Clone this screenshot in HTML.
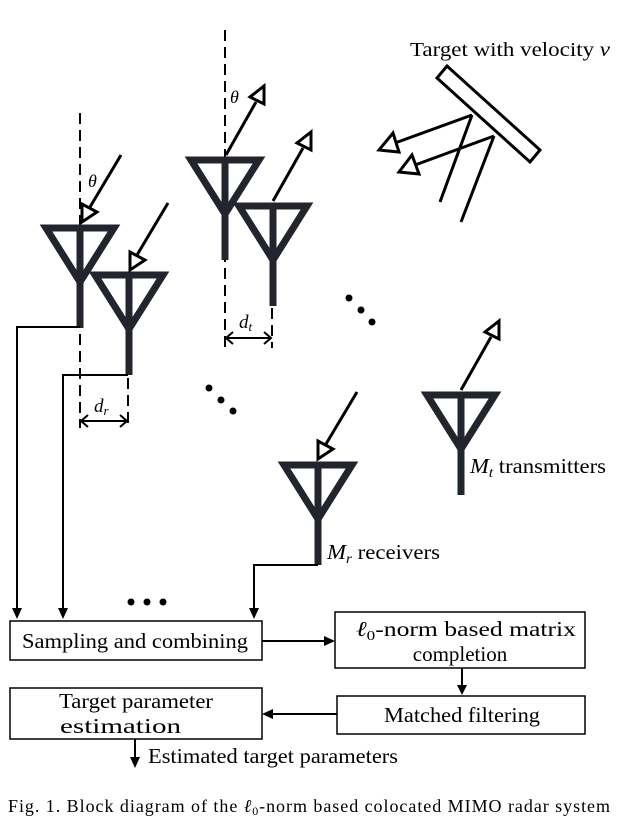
<!DOCTYPE html>
<html><head><meta charset="utf-8"><style>
body{margin:0;background:#fff;width:625px;height:823px;overflow:hidden}
svg text{font-family:"Liberation Serif",serif;fill:#000}
</style></head><body>
<svg width="625" height="823" viewBox="0 0 625 823" xmlns="http://www.w3.org/2000/svg">
<defs>
<g id="ant">
<polygon points="-34,3 34,3 0,57" fill="none" stroke="#23252e" stroke-width="7" stroke-linejoin="miter"/>
<line x1="0" y1="0" x2="0" y2="103" stroke="#23252e" stroke-width="7"/>
</g>
</defs>
<g stroke="#000" stroke-width="2" stroke-dasharray="11,6">
<line x1="80" y1="113" x2="80" y2="428"/>
<line x1="128" y1="378" x2="128" y2="428"/>
<line x1="225" y1="30" x2="225" y2="348"/>
<line x1="272" y1="308" x2="272" y2="348"/>
</g>
<use href="#ant" x="80" y="225"/>
<use href="#ant" x="129" y="272"/>
<use href="#ant" x="225" y="157"/>
<use href="#ant" x="273" y="203"/>
<use href="#ant" x="461" y="392"/>
<use href="#ant" x="318" y="462"/>
<g stroke="#000" stroke-width="3" fill="none">
<line x1="121" y1="155" x2="90" y2="207"/><polygon points="82,222 82,204 97,212" fill="#fff"/>
<line x1="168" y1="203" x2="137" y2="255"/><polygon points="130,270 130,252 145,260" fill="#fff"/>
<line x1="357" y1="392" x2="326" y2="444"/><polygon points="318,459 318,441 333,449" fill="#fff"/>
<line x1="226" y1="155" x2="256" y2="102"/><polygon points="264,86 264,104 250,97" fill="#fff"/>
<line x1="273" y1="201" x2="303" y2="148"/><polygon points="311,132 311,150 297,143" fill="#fff"/>
<line x1="461" y1="390" x2="491" y2="337"/><polygon points="499,321 499,339 485,332" fill="#fff"/>
<polygon points="437,78 447,66 540,150 530,162" fill="#fff" stroke-width="3"/>
<line x1="472" y1="115" x2="440" y2="202"/>
<line x1="494" y1="136" x2="461" y2="222"/>
<line x1="472" y1="115" x2="395" y2="143"/><polygon points="379,150 393,133 399,152" fill="#fff"/>
<line x1="494" y1="136" x2="415" y2="165"/><polygon points="399,172 412,155 419,174" fill="#fff"/>
</g>
<text x="410" y="56" font-size="20" textLength="200" lengthAdjust="spacingAndGlyphs">Target with velocity <tspan font-style="italic">v</tspan></text>
<text x="88" y="187" font-size="18" font-style="italic">θ</text>
<text x="230" y="103" font-size="18" font-style="italic">θ</text>
<g stroke="#000" stroke-width="2" fill="none">
<line x1="81" y1="421" x2="127" y2="421"/><polyline points="88,415 81,421 88,427"/><polyline points="120,415 127,421 120,427"/>
<line x1="226" y1="338" x2="271" y2="338"/><polyline points="233,332 226,338 233,344"/><polyline points="264,332 271,338 264,344"/>
</g>
<text x="94" y="412" font-size="19" font-style="italic">d<tspan font-size="13" dy="3">r</tspan></text>
<text x="239" y="328" font-size="19" font-style="italic">d<tspan font-size="13" dy="3">t</tspan></text>
<g fill="#000">
<circle cx="349" cy="298" r="3.5"/><circle cx="361" cy="310" r="3.5"/><circle cx="372" cy="322" r="3.5"/>
<circle cx="209" cy="388" r="3.5"/><circle cx="221" cy="400" r="3.5"/><circle cx="233" cy="411" r="3.5"/>
<circle cx="131" cy="602" r="3.5"/><circle cx="147" cy="602" r="3.5"/><circle cx="163" cy="602" r="3.5"/>
</g>
<text x="470" y="473" font-size="21" textLength="136" lengthAdjust="spacingAndGlyphs"><tspan font-style="italic">M</tspan><tspan font-style="italic" font-size="14" dy="4">t</tspan><tspan dy="-4"> transmitters</tspan></text>
<text x="327" y="559" font-size="21" textLength="113" lengthAdjust="spacingAndGlyphs"><tspan font-style="italic">M</tspan><tspan font-style="italic" font-size="14" dy="4">r</tspan><tspan dy="-4"> receivers</tspan></text>
<g stroke="#000" stroke-width="2" fill="none">
<polyline points="80,327 17,327 17,608"/>
<polyline points="128,375 63,375 63,608"/>
<polyline points="318,565 254,565 254,608"/>
<line x1="262" y1="641" x2="325" y2="641"/>
<line x1="462" y1="668" x2="462" y2="686"/>
<line x1="337" y1="714" x2="272" y2="714"/>
<line x1="135" y1="739" x2="135" y2="758"/>
</g>
<g fill="#000">
<polygon points="12,608 22,608 17,619"/>
<polygon points="58,608 68,608 63,619"/>
<polygon points="249,608 259,608 254,619"/>
<polygon points="324,636 324,646 335,641"/>
<polygon points="457,685 467,685 462,695"/>
<polygon points="273,709 273,719 262,714"/>
<polygon points="130,757 140,757 135,768"/>
</g>
<g fill="#fff" stroke="#000" stroke-width="1.5">
<rect x="10" y="621" width="252" height="39"/>
<rect x="335" y="612" width="250" height="56"/>
<rect x="337" y="696" width="248" height="38"/>
<rect x="10" y="688" width="252" height="51"/>
</g>
<text x="22" y="648" font-size="21" textLength="226" lengthAdjust="spacingAndGlyphs">Sampling and combining</text>
<text x="356" y="636" font-size="21" textLength="220" lengthAdjust="spacingAndGlyphs"><tspan font-style="italic">ℓ</tspan><tspan font-size="14" dy="4">0</tspan><tspan dy="-4">-norm based matrix</tspan></text>
<text x="460" y="661" font-size="21" text-anchor="middle">completion</text>
<text x="384" y="722" font-size="21" textLength="156" lengthAdjust="spacingAndGlyphs">Matched filtering</text>
<text x="59" y="708" font-size="21" textLength="154" lengthAdjust="spacingAndGlyphs">Target parameter</text>
<text x="60" y="733" font-size="21" textLength="121" lengthAdjust="spacingAndGlyphs">estimation</text>
<text x="148" y="763" font-size="21" textLength="250" lengthAdjust="spacingAndGlyphs">Estimated target parameters</text>
<text x="8" y="812" font-size="18" textLength="602" lengthAdjust="spacing">Fig. 1.  Block diagram of the <tspan font-style="italic">ℓ</tspan><tspan font-size="12" dy="3">0</tspan><tspan dy="-3">-norm based colocated MIMO radar system</tspan></text>
</svg>
</body></html>
